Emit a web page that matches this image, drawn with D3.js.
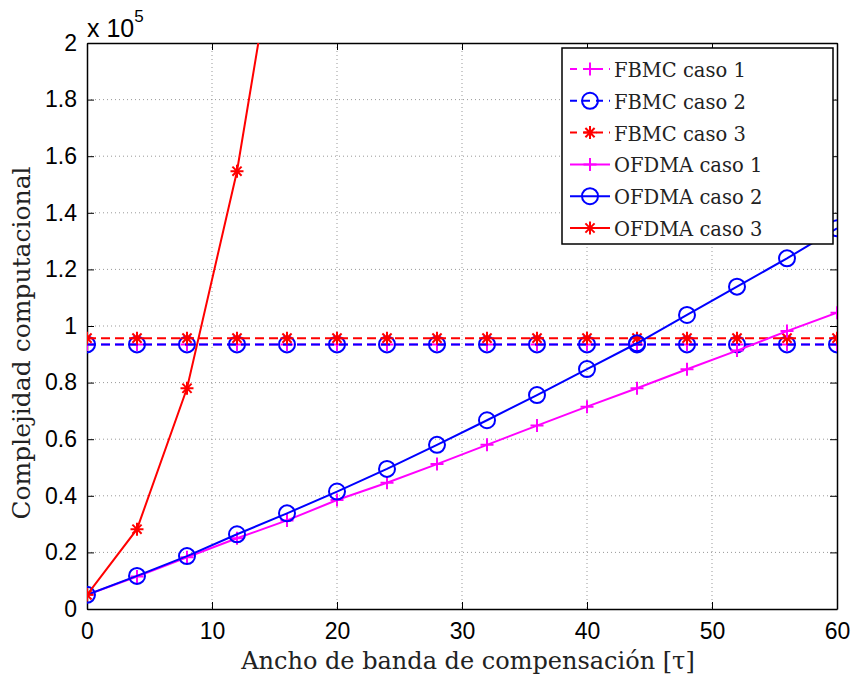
<!DOCTYPE html>
<html>
<head>
<meta charset="utf-8">
<script src="https://d3js.org/d3.v7.min.js"></script>
<style>
body{margin:0;background:#fff;}
.tick text{font-family:"Liberation Sans",Arial,sans-serif;}
</style>
</head>
<body>
<script>
// eje x: ancho de banda de compensacion
var xVals=[0,4,8,12,16,20,24,28,32,36,40,44,48,52,56,60];
var xTicks=[0,10,20,30,40,50,60];
var yTicks=[0,0.2e5,0.4e5,0.6e5,0.8e5,1e5,1.2e5,1.4e5,1.6e5,1.8e5,2e5];
var yTickLabels=["0","0.2","0.4","0.6","0.8","1","1.2","1.4","1.6","1.8","2"];

var fbmc1=[93500,93500,93500,93500,93500,93500,93500,93500,93500,93500,93500,93500,93500,93500,93500,93500];
var fbmc2=[93500,93500,93500,93500,93500,93500,93500,93500,93500,93500,93500,93500,93500,93500,93500,93500];
var fbmc3=[95700,95700,95700,95700,95700,95700,95700,95700,95700,95700,95700,95700,95700,95700,95700,95700];
var ofdma1=[5000,11500,18300,25000,31300,38500,44600,51200,58000,64800,71500,78000,84700,91300,98200,104700];
var ofdma2=[5000,11700,18700,26400,33800,41500,49500,58000,66700,75600,84800,93900,103900,113900,123900,134500];
var ofdma3x=[0,4,8,12,16];
var ofdma3=[5000,28200,78000,154700,261000];

var seriesNames=["FBMC caso 1","FBMC caso 2","FBMC caso 3","OFDMA caso 1","OFDMA caso 2","OFDMA caso 3"];

function LinePlot(options){

    var width=options.width||854,
        height=options.height||677;

    var margin={left:87,top:43,right:17,bottom:68};
    var w=width-margin.left-margin.right,
        h=height-margin.top-margin.bottom;

    var svg=d3.select("body").append("svg")
        .attr("width",width)
        .attr("height",height);

    var x=d3.scaleLinear().domain([0,60]).range([0,w]);
    var y=d3.scaleLinear().domain([0,2e5]).range([h,0]);

    var g=svg.append("g").attr("transform","translate("+margin.left+","+margin.top+")");

    g.append("clipPath").attr("id","clip")
        .append("rect").attr("width",w).attr("height",h);

    // rejilla punteada
    g.selectAll(".gx").data(xTicks.slice(1,-1)).enter().append("line")
        .attr("x1",function(d){return x(d);}).attr("x2",function(d){return x(d);})
        .attr("y1",0).attr("y2",h)
        .attr("stroke","#999").attr("stroke-width",1).attr("stroke-dasharray","1,3");
    g.selectAll(".gy").data(yTicks.slice(1,-1)).enter().append("line")
        .attr("y1",function(d){return y(d);}).attr("y2",function(d){return y(d);})
        .attr("x1",0).attr("x2",w)
        .attr("stroke","#999").attr("stroke-width",1).attr("stroke-dasharray","1,3");

    var xAxis=g.append("g").attr("transform","translate(0,"+h+")")
        .call(d3.axisBottom(x).tickValues(xTicks).tickSizeInner(-7).tickSizeOuter(0).tickPadding(14));
    var xTop=g.append("g")
        .call(d3.axisTop(x).tickValues(xTicks).tickSizeInner(-7).tickSizeOuter(0).tickFormat(""));
    var yAxis=g.append("g")
        .call(d3.axisLeft(y).tickValues(yTicks).tickSizeInner(-7).tickSizeOuter(0).tickPadding(10)
            .tickFormat(function(d,i){return yTickLabels[i];}));
    var yRight=g.append("g").attr("transform","translate("+w+",0)")
        .call(d3.axisRight(y).tickValues(yTicks).tickSizeInner(-7).tickSizeOuter(0).tickFormat(""));

    [xAxis,xTop,yAxis,yRight].forEach(function(a){
        a.select(".domain").attr("stroke","#000").attr("stroke-width",1.5);
        a.selectAll(".tick line").attr("stroke","#000").attr("stroke-width",1);
        a.selectAll(".tick text").attr("font-size",23).attr("fill","#000");
    });
    xAxis.selectAll(".tick text").attr("dy","0.71em");

    var line=d3.line().x(function(d){return x(d[0]);}).y(function(d){return y(d[1]);});

    function pairs(xs,ys){return xs.map(function(v,i){return [v,ys[i]];});}

    var series=[
        {name:seriesNames[0],pts:pairs(xVals,fbmc1),color:"#ff00ff",dash:"9,5",mark:"plus"},
        {name:seriesNames[1],pts:pairs(xVals,fbmc2),color:"#0000ff",dash:"9,5",mark:"circle"},
        {name:seriesNames[2],pts:pairs(xVals,fbmc3),color:"#ff0000",dash:"9,5",mark:"star"},
        {name:seriesNames[3],pts:pairs(xVals,ofdma1),color:"#ff00ff",dash:null,mark:"plus"},
        {name:seriesNames[4],pts:pairs(xVals,ofdma2),color:"#0000ff",dash:null,mark:"circle"},
        {name:seriesNames[5],pts:pairs(ofdma3x,ofdma3),color:"#ff0000",dash:null,mark:"star"}
    ];

    function marker(sel,type,color){
        if(type==="circle"){
            sel.append("circle").attr("r",8).attr("fill","none")
                .attr("stroke",color).attr("stroke-width",2);
        }else if(type==="plus"){
            sel.append("path").attr("d","M-6.5,0H6.5M0,-6.5V6.5")
                .attr("stroke",color).attr("stroke-width",2);
        }else{
            sel.append("path").attr("d","M-6.5,0H6.5M0,-6.5V6.5M-4.6,-4.6L4.6,4.6M-4.6,4.6L4.6,-4.6")
                .attr("stroke",color).attr("stroke-width",2);
        }
    }

    var plot=g.append("g").attr("clip-path","url(#clip)");

    series.forEach(function(s){
        plot.append("path").datum(s.pts)
            .attr("d",line)
            .attr("fill","none")
            .attr("stroke",s.color)
            .attr("stroke-width",2)
            .attr("stroke-dasharray",s.dash);
        plot.selectAll(null).data(s.pts).enter().append("g")
            .attr("transform",function(d){return "translate("+x(d[0])+","+y(d[1])+")";})
            .each(function(){marker(d3.select(this),s.mark,s.color);});
    });

    // leyenda
    var leg=svg.append("g").attr("transform","translate(562,48)");
    leg.append("rect").attr("width",271).attr("height",196)
        .attr("fill","#fff").attr("stroke","#000").attr("stroke-width",1.5);
    series.forEach(function(s,i){
        var row=leg.append("g").attr("transform","translate(0,"+(21+i*31.8)+")");
        row.append("line").attr("x1",8).attr("x2",48).attr("y1",0).attr("y2",0)
            .attr("stroke",s.color).attr("stroke-width",2)
            .attr("stroke-dasharray",s.dash?"7,6":null);
        var m=row.append("g").attr("transform","translate(28,0)");
        marker(m,s.mark,s.color);
        row.append("text").attr("x",52).attr("y",8)
            .attr("font-family","'DejaVu Serif',serif")
            .attr("font-size",19.5).attr("fill","#222")
            .text(s.name);
    });

    // etiquetas
    svg.append("text")
        .attr("x",468).attr("y",669)
        .attr("text-anchor","middle")
        .attr("font-family","'DejaVu Serif',serif")
        .attr("font-size",24).attr("fill","#222")
        .text("Ancho de banda de compensación [τ]");

    svg.append("text")
        .attr("transform","translate(30,343) rotate(-90)")
        .attr("text-anchor","middle")
        .attr("font-family","'DejaVu Serif',serif")
        .attr("font-size",25).attr("fill","#222")
        .text("Complejidad computacional");

    var ex=svg.append("text").attr("x",87).attr("y",37)
        .attr("font-family","'Liberation Sans',Arial,sans-serif")
        .attr("font-size",25).attr("fill","#000");
    ex.append("tspan").text("x 10");
    ex.append("tspan").attr("dy",-15).attr("font-size",17).text("5");

    return svg;
}

LinePlot({width:854,height:677});
</script>
</body>
</html>
